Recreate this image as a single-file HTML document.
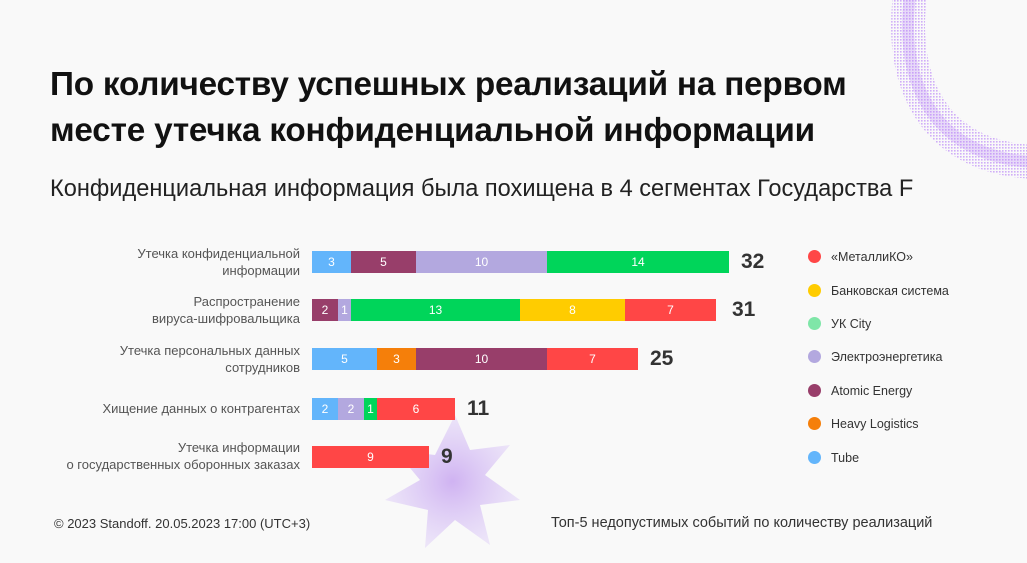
<!DOCTYPE html><html><head><meta charset="utf-8"><style>
body{margin:0;width:1027px;height:563px;background:#f9f9f9;font-family:"Liberation Sans",sans-serif;position:relative;overflow:hidden;color:#222}
.a{position:absolute;white-space:nowrap}
.t{left:50px;top:62px;font-size:33.3px;font-weight:bold;line-height:46px;color:#111;letter-spacing:-0.2px}
.s{left:50px;top:176px;font-size:23.6px;color:#222}
.l{right:727px;font-size:13px;color:#555;text-align:right;line-height:17px}
.b{position:absolute;height:22px;color:#fff;font-size:12px;text-align:center;line-height:22px}
.n{font-size:21px;font-weight:bold;color:#333}
.lg{left:808px;font-size:12.5px;color:#333}
.lg i{display:inline-block;width:13px;height:13px;border-radius:50%;vertical-align:-2px;margin-right:10px}
.f{font-size:13px;color:#333}
</style></head><body>
<svg class="a" style="left:0;top:0" width="1027" height="563">
<defs><radialGradient id="g2"><stop offset="0" stop-color="#c8a6f0" stop-opacity=".85"/><stop offset="1" stop-color="#d8c4f7" stop-opacity=".4"/></radialGradient>
<pattern id="d" width="3" height="3" patternUnits="userSpaceOnUse"><rect width="1.6" height="1.6" fill="#b57af7"/></pattern></defs>
<path d="M910 -5 C898 90 940 158 1035 162" stroke="url(#d)" stroke-width="34" fill="none" opacity=".6"/>
<path d="M910 -5 C898 90 940 158 1035 162" stroke="#b57af7" stroke-width="12" fill="none" opacity=".25"/>
<polygon points="455,415 470,450 510,445 485,475 520,500 480,505 490,545 455,520 425,548 428,510 385,500 420,480 395,450 435,455" fill="url(#g2)"/>
</svg>
<div class="a t">По количеству успешных реализаций на первом<br>месте утечка конфиденциальной информации</div>
<div class="a s">Конфиденциальная информация была похищена в 4 сегментах Государства F</div>
<div class="a l" style="top:245px">Утечка конфиденциальной<br>информации</div>
<div class="a l" style="top:293px">Распространение<br>вируса-шифровальщика</div>
<div class="a l" style="top:342px">Утечка персональных данных<br>сотрудников</div>
<div class="a l" style="top:400px">Хищение данных о контрагентах</div>
<div class="a l" style="top:439px">Утечка информации<br>о государственных оборонных заказах</div>
<div class="b" style="top:251px;left:312px;width:39px;background:#63b5fb">3</div>
<div class="b" style="top:251px;left:351px;width:65px;background:#983e6a">5</div>
<div class="b" style="top:251px;left:416px;width:131px;background:#b3a8df">10</div>
<div class="b" style="top:251px;left:547px;width:182px;background:#00d55a">14</div>
<div class="a n" style="top:250px;left:741px">32</div>
<div class="b" style="top:299px;left:312px;width:26px;background:#983e6a">2</div>
<div class="b" style="top:299px;left:338px;width:13px;background:#b3a8df">1</div>
<div class="b" style="top:299px;left:351px;width:169px;background:#00d55a">13</div>
<div class="b" style="top:299px;left:520px;width:105px;background:#ffcc00">8</div>
<div class="b" style="top:299px;left:625px;width:91px;background:#ff4646">7</div>
<div class="a n" style="top:298px;left:732px">31</div>
<div class="b" style="top:348px;left:312px;width:65px;background:#63b5fb">5</div>
<div class="b" style="top:348px;left:377px;width:39px;background:#f57f0a">3</div>
<div class="b" style="top:348px;left:416px;width:131px;background:#983e6a">10</div>
<div class="b" style="top:348px;left:547px;width:91px;background:#ff4646">7</div>
<div class="a n" style="top:347px;left:650px">25</div>
<div class="b" style="top:398px;left:312px;width:26px;background:#63b5fb">2</div>
<div class="b" style="top:398px;left:338px;width:26px;background:#b3a8df">2</div>
<div class="b" style="top:398px;left:364px;width:13px;background:#00d55a">1</div>
<div class="b" style="top:398px;left:377px;width:78px;background:#ff4646">6</div>
<div class="a n" style="top:397px;left:467px">11</div>
<div class="b" style="top:446px;left:312px;width:117px;background:#ff4646">9</div>
<div class="a n" style="top:445px;left:441px">9</div>
<div class="a lg" style="top:250px"><i style="background:#ff4646"></i>«МеталлиКО»</div>
<div class="a lg" style="top:284px"><i style="background:#ffcc00"></i>Банковская система</div>
<div class="a lg" style="top:317px"><i style="background:#7fe6a8"></i>УК City</div>
<div class="a lg" style="top:350px"><i style="background:#b3a8df"></i>Электроэнергетика</div>
<div class="a lg" style="top:384px"><i style="background:#983e6a"></i>Atomic Energy</div>
<div class="a lg" style="top:417px"><i style="background:#f57f0a"></i>Heavy Logistics</div>
<div class="a lg" style="top:451px"><i style="background:#63b5fb"></i>Tube</div>
<div class="a f" style="left:54px;top:516px">© 2023 Standoff. 20.05.2023 17:00 (UTC+3)</div>
<div class="a f" style="left:551px;top:515px;font-size:14.5px">Топ-5 недопустимых событий по количеству реализаций</div>
</body></html>
